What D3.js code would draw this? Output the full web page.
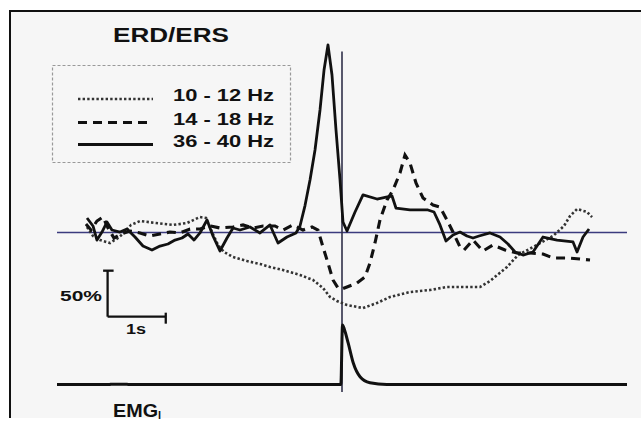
<!DOCTYPE html>
<html><head><meta charset="utf-8">
<script src="https://cdn.jsdelivr.net/npm/d3@7"></script>
<style>html,body{margin:0;padding:0;background:#fff;}svg{display:block;}</style>
</head><body>
<svg id="c" width="641" height="428"></svg>
<script>
// ---- data (time in s relative to movement onset, value in % change) ----
const seriesNames = ["10 - 12 Hz", "14 - 18 Hz", "36 - 40 Hz"];
const band10_12 = [
[-4.384,6.0],[-4.281,-3.8],[-4.161,-8.2],[-3.989,-11.4],[-3.851,-6.0],[-3.748,-0.5],[-3.628,8.2],
[-3.473,12.5],[-3.198,10.3],[-2.906,8.2],[-2.665,10.3],[-2.442,16.8],[-2.338,15.8],[-2.235,0.5],
[-2.132,-13.6],[-2.029,-21.2],[-1.874,-26.6],[-1.633,-31.0],[-1.410,-34.2],[-1.238,-37.5],[-1.014,-40.8],
[-0.722,-46.2],[-0.499,-51.6],[-0.327,-60.3],[-0.206,-70.1],[-0.086,-74.5],[0.086,-78.8],[0.361,-82.1],
[0.602,-76.6],[0.825,-70.1],[1.169,-64.7],[1.513,-62.5],[1.805,-59.2],[2.080,-59.2],[2.373,-59.2],
[2.545,-52.7],[2.837,-37.5],[3.026,-24.5],[3.284,-15.8],[3.628,-3.8],[3.817,7.1],[3.920,17.9],
[4.041,25.5],[4.213,22.3],[4.299,16.8]];
const band14_18 = [
[-4.402,9.2],[-4.316,2.7],[-4.213,12.5],[-4.109,16.8],[-4.023,4.9],[-3.920,-6.0],[-3.800,-1.6],
[-3.645,1.6],[-3.473,-0.5],[-3.301,-3.8],[-3.129,-1.6],[-2.957,0.5],[-2.785,-0.5],[-2.613,3.8],
[-2.442,3.8],[-2.270,7.1],[-2.098,4.9],[-1.874,6.0],[-1.702,8.2],[-1.530,4.9],[-1.358,7.1],[-1.152,7.1],
[-1.014,2.7],[-0.843,8.2],[-0.671,2.7],[-0.516,6.0],[-0.413,2.7],[-0.327,-15.8],[-0.241,-33.2],
[-0.155,-51.6],[-0.069,-60.3],[0.000,-61.4],[0.086,-59.2],[0.258,-54.9],[0.395,-48.4],[0.481,-33.2],
[0.567,-11.4],[0.653,13.6],[0.774,35.3],[0.877,46.2],[0.997,64.7],[1.083,84.2],[1.169,75.5],
[1.272,53.8],[1.393,37.5],[1.565,29.9],[1.685,27.7],[1.805,13.6],[1.908,0.5],[2.029,-15.8],
[2.098,-19.0],[2.252,-8.2],[2.424,-20.1],[2.596,-13.6],[2.802,-19.0],[3.008,-22.3],[3.232,-22.3],
[3.456,-23.4],[3.628,-27.7],[3.869,-27.7],[4.092,-28.8],[4.264,-29.9]];
const band36_40 = [
[-4.384,15.8],[-4.281,7.1],[-4.213,-8.2],[-4.127,0.5],[-4.041,11.4],[-3.955,2.7],[-3.817,0.5],
[-3.697,3.8],[-3.559,-4.9],[-3.422,-14.7],[-3.267,-19.0],[-3.129,-14.7],[-2.992,-12.5],[-2.871,-8.2],
[-2.751,-6.0],[-2.648,-1.6],[-2.545,-8.2],[-2.442,-0.5],[-2.321,13.6],[-2.218,-3.8],[-2.098,-20.1],
[-1.977,-6.0],[-1.874,4.9],[-1.754,2.7],[-1.582,6.0],[-1.410,-0.5],[-1.238,8.2],[-1.100,-11.4],
[-0.946,-4.9],[-0.791,-0.5],[-0.722,7.1],[-0.636,29.3],[-0.550,57.1],[-0.464,89.7],[-0.378,133.2],
[-0.309,176.6],[-0.241,203.8],[-0.172,171.2],[-0.103,111.4],[-0.034,57.1],[0.017,11.4],[0.086,1.6],
[0.224,22.3],[0.361,40.8],[0.602,36.4],[0.860,39.7],[0.928,26.6],[1.169,24.5],[1.478,24.5],
[1.582,22.3],[1.685,8.2],[1.788,-9.2],[1.908,-2.7],[2.029,0.5],[2.149,-3.8],[2.252,-6.0],[2.356,-3.8],
[2.545,-0.5],[2.717,-4.9],[2.854,-12.5],[2.975,-21.2],[3.112,-24.5],[3.284,-21.2],[3.456,-4.9],
[3.697,-8.2],[3.972,-10.3],[4.041,-21.2],[4.144,-4.9],[4.247,3.8]];
const emgTimes  = [-4.9,-4.0,-3.95,-3.75,-3.65,-0.02,0.009,0.04,0.108,0.194,0.31,0.48,0.77,4.9];
const emgValues = [0,0,0.006,0.006,0,0,1.0,0.93,0.69,0.36,0.13,0.03,0,0];
const scaleBarPct = 50, scaleBarSec = 1;
const labels = {title:"ERD/ERS", pct:"50%", sec:"1s", emg:"EMG", emgSub:"l"};

// ---- drawing ----
const svg = d3.select("#c");
svg.append("rect").attr("x",10).attr("y",11).attr("width",631).attr("height",407).attr("fill","#f6f6f6");
svg.append("line").attr("x1",10).attr("x2",641).attr("y1",11).attr("y2",11).attr("stroke","#111").attr("stroke-width",2);
svg.append("line").attr("x1",10).attr("x2",10).attr("y1",10).attr("y2",418).attr("stroke","#111").attr("stroke-width",2);

const x = d3.scaleLinear().domain([-4.9,4.9]).range([57,627]);
const y = d3.scaleLinear().domain([-150,200]).range([370.5,48.5]);
const yE = d3.scaleLinear().domain([0,1]).range([384.5,325]);

// baseline
svg.append("line").attr("x1",x(-4.9)).attr("x2",x(4.9)).attr("y1",y(0)).attr("y2",y(0))
  .attr("stroke","#3b3b7e").attr("stroke-width",1.6);
// onset vertical line
svg.append("line").attr("x1",x(0)).attr("x2",x(0)).attr("y1",51.5).attr("y2",392)
  .attr("stroke","#30304a").attr("stroke-width",1.6);

const line = d3.line().x(d=>x(d[0])).y(d=>y(d[1]));
svg.append("path").datum(band10_12).attr("d",line).attr("fill","none")
  .attr("stroke","#333").attr("stroke-width",2.6).attr("stroke-dasharray","2.4,2.2");
svg.append("path").datum(band14_18).attr("d",line).attr("fill","none")
  .attr("stroke","#111").attr("stroke-width",3.1).attr("stroke-dasharray","9,6");
svg.append("path").datum(band36_40).attr("d",line).attr("fill","none")
  .attr("stroke","#111").attr("stroke-width",2.8).attr("stroke-linejoin","round");

// EMG
const emg = emgTimes.map((t,i)=>[t,emgValues[i]]);
svg.append("path").datum(emg)
  .attr("d",d3.line().x(d=>x(d[0])).y(d=>yE(d[1])).curve(d3.curveMonotoneX))
  .attr("fill","none").attr("stroke","#111").attr("stroke-width",3);

// scale bar
const sbT = -4.03, sbP = -91.5;
const g = svg.append("g").attr("stroke","#111").attr("stroke-width",2.3);
g.append("line").attr("x1",x(sbT)).attr("x2",x(sbT)).attr("y1",y(sbP)).attr("y2",y(sbP+scaleBarPct));
g.append("line").attr("x1",x(sbT)-4.5).attr("x2",x(sbT)+6).attr("y1",y(sbP+scaleBarPct)).attr("y2",y(sbP+scaleBarPct));
g.append("line").attr("x1",x(sbT)).attr("x2",x(sbT+scaleBarSec)).attr("y1",y(sbP)).attr("y2",y(sbP));
g.append("line").attr("x1",x(sbT+scaleBarSec)).attr("x2",x(sbT+scaleBarSec)).attr("y1",y(sbP)-4).attr("y2",y(sbP)+7);

const F = "Liberation Sans, Arial, Helvetica, sans-serif";
function txt(s,xx,yy,size,len){
  return svg.append("text").attr("x",xx).attr("y",yy).attr("font-family",F).attr("font-weight","bold")
    .attr("font-size",size).attr("fill","#111").attr("textLength",len).attr("lengthAdjust","spacingAndGlyphs").text(s);
}
txt(labels.title,113,41.5,21,116);
txt(labels.pct,60,301,14.5,42);
txt(labels.sec,126,334,14.5,20);
const em = svg.append("text").attr("x",113).attr("y",416.5).attr("font-family",F).attr("font-weight","bold")
  .attr("font-size",19).attr("fill","#111");
em.append("tspan").text(labels.emg).attr("textLength",45).attr("lengthAdjust","spacingAndGlyphs");
em.append("tspan").text(labels.emgSub).attr("font-size",11).attr("dy",2);

// legend
svg.append("rect").attr("x",52.5).attr("y",65.5).attr("width",238).attr("height",97)
  .attr("fill","none").attr("stroke","#999").attr("stroke-width",1.2).attr("stroke-dasharray","3,2");
const styles = [
  {dash:"2.4,2.2",w:2.4,c:"#333",ly:99,ty:100.5},
  {dash:"9,6",w:3.1,c:"#111",ly:122.5,ty:124.5},
  {dash:null,w:3,c:"#111",ly:144.5,ty:146.5}
];
styles.forEach((s,i)=>{
  const l = svg.append("line").attr("x1",78).attr("x2",153).attr("y1",s.ly).attr("y2",s.ly)
    .attr("stroke",s.c).attr("stroke-width",s.w);
  if(s.dash) l.attr("stroke-dasharray",s.dash);
  txt(seriesNames[i],173,s.ty,16.5,101);
});
</script>
</body></html>
